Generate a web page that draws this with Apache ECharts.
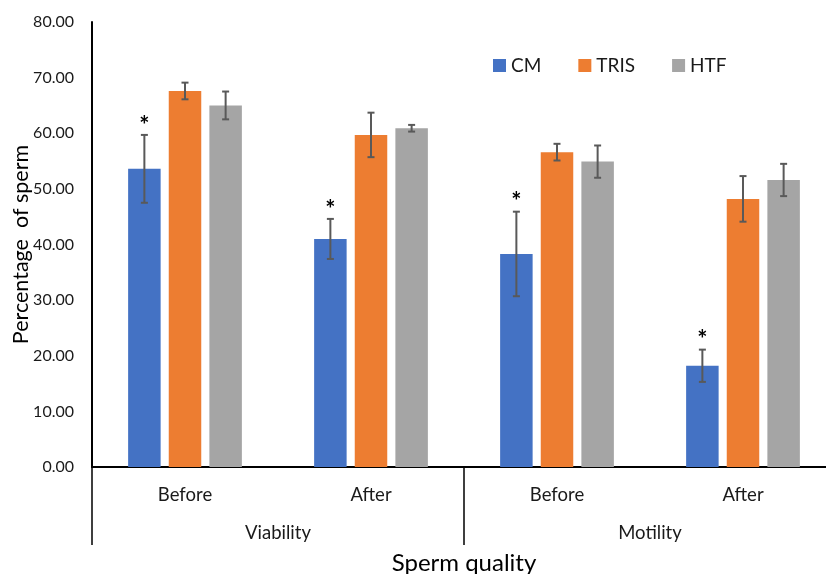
<!DOCTYPE html>
<html>
<head>
<meta charset="utf-8">
<script src="https://cdn.jsdelivr.net/npm/echarts@6/dist/echarts.min.js"></script>
<style>html,body{margin:0;padding:0;background:#fff}#c{width:826px;height:574px}</style>
</head>
<body>
<div id="c"></div>
<script>
const subCategories = ['Before', 'After', 'Before', 'After'];
const groupCategories = ['Viability', 'Motility'];
const seriesNames = ['CM', 'TRIS', 'HTF'];
const cmValues = [53.6, 41.0, 38.3, 18.2];
const trisValues = [67.6, 59.7, 56.6, 48.2];
const htfValues = [65.0, 60.9, 54.9, 51.6];
const cmErrors = [6.1, 3.6, 7.6, 2.9];
const trisErrors = [1.5, 4.0, 1.5, 4.1];
const htfErrors = [2.5, 0.6, 2.9, 2.9];
const cmSignificant = [true, true, true, true];
const yTicks = [0, 10, 20, 30, 40, 50, 60, 70, 80];

const colors = ['#4472C4', '#ED7D31', '#A5A5A5'];
const FONT = 'Lato';
const BAR_W = 32.5;
const BAR_GAP = 0.25;
const allValues = [cmValues, trisValues, htfValues];
const allErrors = [cmErrors, trisErrors, htfErrors];

const chart = echarts.init(document.getElementById('c'));

const barSeries = seriesNames.map((name, i) => ({
  name: name,
  type: 'bar',
  xAxisIndex: 0,
  data: allValues[i],
  barWidth: BAR_W,
  barGap: (BAR_GAP * 100) + '%',
  itemStyle: { color: colors[i] },
  emphasis: { disabled: true },
  z: 2
}));

const errSeries = seriesNames.map((name, i) => ({
  type: 'custom',
  xAxisIndex: 0,
  silent: true,
  z: 5,
  data: allValues[i].map((v, k) => [k, v, allErrors[i][k], (i === 0 && cmSignificant[k]) ? 1 : 0]),
  renderItem: function (params, api) {
    const k = api.value(0), v = api.value(1), e = api.value(2), star = api.value(3);
    const off = (i - 1) * BAR_W * (1 + BAR_GAP);
    const top = api.coord([k, v + e]);
    const bot = api.coord([k, v - e]);
    const x = top[0] + off;
    const style = { stroke: '#595959', lineWidth: 2 };
    const children = [
      { type: 'line', shape: { x1: x, y1: top[1], x2: x, y2: bot[1] }, style: style },
      { type: 'line', shape: { x1: x - 3.5, y1: top[1], x2: x + 3.5, y2: top[1] }, style: style },
      { type: 'line', shape: { x1: x - 3.5, y1: bot[1], x2: x + 3.5, y2: bot[1] }, style: style }
    ];
    if (star) {
      children.push({
        type: 'text',
        style: { text: '*', x: x, y: top[1] - 9, textAlign: 'center', textVerticalAlign: 'middle',
                 font: 'bold 24px ' + FONT, fill: '#000' }
      });
    }
    return { type: 'group', children: children };
  }
}));

const option = {
  animation: false,
  backgroundColor: '#fff',
  textStyle: { fontFamily: FONT },
  legend: {
    data: seriesNames,
    top: 51,
    left: 488,
    itemWidth: 13,
    itemHeight: 13,
    itemGap: 37,
    icon: 'rect',
    textStyle: { fontSize: 19, color: '#1a1a1a', fontFamily: FONT }
  },
  grid: { left: 92, top: 22, width: 744, height: 445, containLabel: false, outerBoundsMode: 'none' },
  xAxis: [
    {
      type: 'category',
      data: subCategories,
      position: 'bottom',
      axisLine: { show: true, lineStyle: { color: '#000', width: 2 } },
      axisTick: { show: false },
      axisLabel: { margin: 19, fontSize: 18.5, color: '#1a1a1a', fontFamily: FONT }
    },
    {
      type: 'category',
      data: groupCategories,
      position: 'bottom',
      axisLine: { show: false },
      axisTick: { show: true, length: 78, interval: 0, lineStyle: { color: '#000', width: 1.5 } },
      axisLabel: { margin: 57, fontSize: 18.5, color: '#1a1a1a', fontFamily: FONT },
      name: 'Sperm quality',
      nameLocation: 'middle',
      nameMoveOverlap: false,
      nameGap: 84,
      nameTextStyle: { fontSize: 24, color: '#000', fontFamily: FONT }
    }
  ],
  yAxis: {
    type: 'value',
    min: 0,
    max: 80,
    interval: 10,
    axisLine: { show: true, lineStyle: { color: '#000', width: 2 } },
    axisTick: { show: false },
    splitLine: { show: false },
    axisLabel: {
      margin: 18, fontSize: 16, color: '#1a1a1a', fontFamily: FONT,
      formatter: v => yTicks.indexOf(v) >= 0 ? v.toFixed(2) : ''
    },
    name: 'Percentage  of sperm',
    nameLocation: 'middle',
    nameMoveOverlap: false,
    nameGap: 60,
    nameTextStyle: { fontSize: 21.5, color: '#000', fontFamily: FONT }
  },
  series: barSeries.concat(errSeries)
};
chart.setOption(option);
</script>
</body>
</html>
